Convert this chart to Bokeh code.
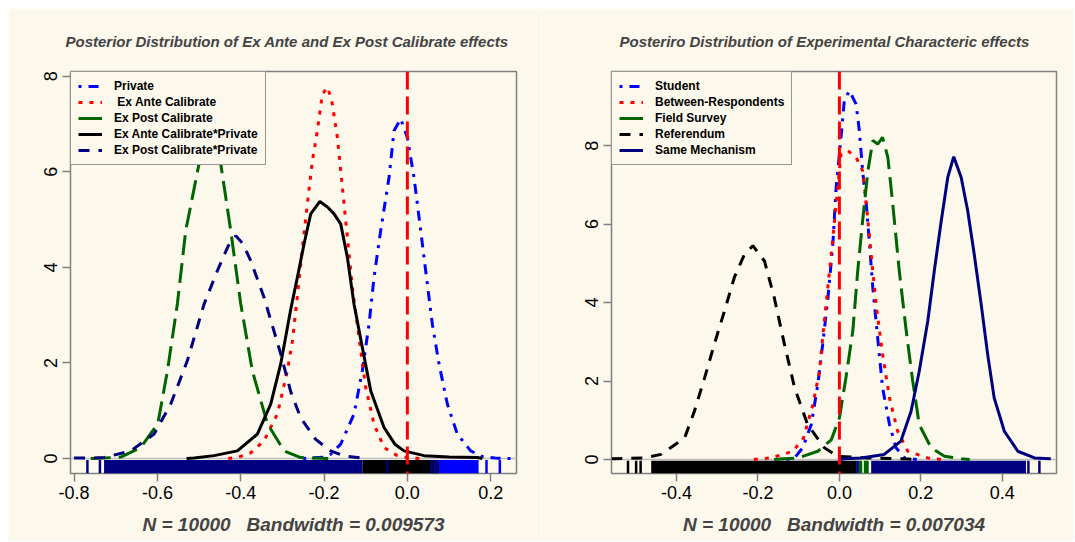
from bokeh.plotting import figure
from bokeh.layouts import row
from bokeh.models import (Range1d, FixedTicker, PrintfTickFormatter, Legend,
                          LegendItem, Span)
from bokeh.embed import file_html
from bokeh.resources import INLINE

# ---------------- data ----------------
# Left panel: posterior densities
L_TITLE = "Posterior Distribution of Ex Ante and Ex Post Calibrate effects"
L_XLABEL = "N = 10000\u00a0\u00a0 Bandwidth = 0.009573"
L_LABELS = ["Private", " Ex Ante Calibrate", "Ex Post Calibrate",
            "Ex Ante Calibrate*Private", "Ex Post Calibrate*Private"]
L_XTICKS = [-0.8, -0.6, -0.4, -0.2, 0.0, 0.2]
L_YTICKS = [0, 2, 4, 6, 8]

private_x = [-0.25, -0.20, -0.184, -0.16, -0.128, -0.108, -0.092, -0.080, -0.064, -0.044,
             -0.032, -0.016, 0.0, 0.016, 0.028, 0.044, 0.060, 0.076, 0.096, 0.120,
             0.152, 0.18, 0.21, 0.248]
private_y = [0.0, 0.03, 0.09, 0.30, 0.93, 1.84, 2.81, 3.79, 4.77, 5.88,
             6.86, 7.11, 6.72, 5.88, 5.05, 3.93, 2.81, 1.98, 1.14, 0.51,
             0.16, 0.04, 0.01, 0.0]
exante_x = [-0.43, -0.408, -0.376, -0.344, -0.312, -0.288, -0.276, -0.264, -0.252, -0.240,
            -0.228, -0.216, -0.204, -0.191, -0.180, -0.168, -0.156, -0.144, -0.132, -0.116,
            -0.100, -0.080, -0.056, -0.024, 0.0, 0.03]
exante_y = [0.0, 0.02, 0.12, 0.37, 0.93, 1.84, 2.45, 3.40, 4.40, 5.33,
            6.23, 6.86, 7.63, 7.77, 7.42, 6.72, 5.68, 4.63, 3.58, 2.53,
            1.49, 0.72, 0.23, 0.06, 0.02, 0.0]
expost_x = [-0.76, -0.729, -0.688, -0.640, -0.599, -0.576, -0.552, -0.532, -0.500, -0.486,
            -0.474, -0.462, -0.448, -0.424, -0.400, -0.372, -0.336, -0.296, -0.256, -0.19]
expost_y = [0.0, 0.01, 0.03, 0.23, 0.73, 1.83, 3.24, 4.77, 6.17, 6.58,
            6.72, 6.58, 6.17, 4.77, 3.24, 1.83, 0.73, 0.16, 0.02, 0.0]
exante_priv_x = [-0.53, -0.512, -0.464, -0.408, -0.360, -0.328, -0.304, -0.280, -0.264, -0.248,
                 -0.232, -0.210, -0.190, -0.176, -0.160, -0.144, -0.128, -0.108, -0.088, -0.056,
                 -0.030, -0.008, 0.04, 0.10, 0.168, 0.18]
exante_priv_y = [0.0, 0.01, 0.06, 0.16, 0.51, 1.14, 1.98, 3.12, 3.79, 4.49,
                 5.12, 5.38, 5.25, 5.12, 4.91, 4.21, 3.23, 2.32, 1.42, 0.65,
                 0.30, 0.16, 0.06, 0.03, 0.02, 0.0]
expost_priv_x = [-0.80, -0.76, -0.728, -0.664, -0.608, -0.568, -0.528, -0.488, -0.456, -0.430,
                 -0.412, -0.395, -0.376, -0.344, -0.304, -0.280, -0.256, -0.220, -0.184, -0.150,
                 -0.10]
expost_priv_y = [0.01, 0.01, 0.02, 0.16, 0.51, 1.14, 2.05, 3.23, 3.93, 4.45,
                 4.66, 4.50, 4.14, 3.37, 2.19, 1.40, 0.85, 0.40, 0.16, 0.05,
                 0.0]

L_RUG_BAND_COLOR = ["#000080", "black", "blue"]
L_RUG_BAND_LEFT = [-0.728, -0.108, 0.076]
L_RUG_BAND_RIGHT = [-0.108, 0.076, 0.171]
L_RUG_TICK_X = [-0.768, -0.738, -0.048, 0.058, 0.066, 0.072, 0.19, 0.222]
L_RUG_TICK_COLOR = ["#000080", "#000080", "#000080", "#000080", "#000080", "#000080", "blue", "blue"]

# Right panel
R_TITLE = "Posteriro Distribution of Experimental Characteric effects"
R_XLABEL = "N = 10000\u00a0\u00a0 Bandwidth = 0.007034"
R_LABELS = ["Student", "Between-Respondents", "Field Survey", "Referendum", "Same Mechanism"]
R_XTICKS = [-0.4, -0.2, 0.0, 0.2, 0.4]
R_YTICKS = [0, 2, 4, 6, 8]

student_x = [-0.13, -0.110, -0.090, -0.069, -0.053, -0.041, -0.028, -0.016, -0.008, 0.004,
             0.012, 0.0245, 0.041, 0.049, 0.057, 0.066, 0.074, 0.082, 0.094, 0.106,
             0.123, 0.139, 0.160, 0.19]
student_y = [0.0, 0.04, 0.30, 0.89, 1.91, 2.94, 4.13, 5.50, 6.93, 8.21,
             9.15, 9.40, 9.06, 8.38, 7.36, 6.51, 5.49, 4.38, 3.10, 1.83,
             0.89, 0.30, 0.04, 0.0]
between_x = [-0.21, -0.190, -0.168, -0.114, -0.088, -0.065, -0.049, -0.037, -0.020, -0.008,
             0.004, 0.0206, 0.041, 0.057, 0.066, 0.078, 0.090, 0.106, 0.123, 0.143,
             0.168, 0.217, 0.25]
between_y = [0.0, 0.02, 0.04, 0.21, 0.55, 1.40, 2.25, 3.53, 5.23, 6.51,
             7.79, 7.87, 7.70, 7.36, 6.51, 5.23, 3.96, 2.68, 1.57, 0.72,
             0.21, 0.04, 0.0]
field_x = [-0.16, -0.135, -0.102, -0.053, -0.020, 0.0, 0.016, 0.033, 0.045, 0.057,
           0.070, 0.082, 0.094, 0.106, 0.119, 0.131, 0.147, 0.164, 0.180, 0.196,
           0.225, 0.258, 0.299, 0.32]
field_y = [0.0, 0.02, 0.04, 0.21, 0.50, 1.06, 2.08, 3.28, 4.81, 6.08,
           7.36, 8.13, 8.04, 8.21, 7.70, 6.51, 4.81, 3.28, 2.00, 0.89,
           0.30, 0.08, 0.02, 0.0]
referendum_x = [-0.56, -0.479, -0.438, -0.380, -0.356, -0.331, -0.307, -0.282, -0.258, -0.233,
                -0.2125, -0.184, -0.160, -0.135, -0.110, -0.078, -0.037, -0.004, 0.07, 0.17,
                0.19]
referendum_y = [0.02, 0.04, 0.13, 0.55, 1.23, 2.08, 2.94, 3.79, 4.64, 5.23,
                5.45, 5.06, 4.13, 2.94, 1.83, 0.89, 0.30, 0.08, 0.04, 0.01,
                0.0]
same_x = [0.0, 0.012, 0.053, 0.110, 0.151, 0.176, 0.196, 0.217, 0.233, 0.250,
          0.266, 0.2807, 0.299, 0.315, 0.331, 0.348, 0.364, 0.380, 0.405, 0.438,
          0.479, 0.519]
same_y = [0.0, 0.02, 0.04, 0.13, 0.47, 1.23, 2.25, 3.53, 4.81, 6.08,
          7.19, 7.72, 7.19, 6.34, 5.23, 3.96, 2.68, 1.57, 0.72, 0.21,
          0.04, 0.02]

R_RUG_BAND_COLOR = ["black", "#000080", "#006400", "#006400", "#000080"]
R_RUG_BAND_LEFT = [-0.462, 0.041, 0.048, 0.060, 0.078]
R_RUG_BAND_RIGHT = [0.041, 0.048, 0.056, 0.072, 0.458]
R_RUG_TICK_X = [-0.519, -0.499, -0.488, 0.464, 0.491]
R_RUG_TICK_COLOR = ["black", "black", "black", "#000080", "#000080"]

# ---------------- styling ----------------
CREAM = "#FDF8EC"
FONT = "Liberation Sans"
GREY = "#808080"
BLUE, RED, GREEN, BLACK, NAVY = "#0000FF", "#FF0000", "#006400", "#000000", "#000080"
DOTDASH, DOTTED, LONGDASH, DASHED = "3 7 10 7", "4 7", "20 8", "11 9"
LW = 3
NAN = float("nan")


def make_panel(title, title_offset, xlabel, xr, yr, xticks, yticks, curves, legend_styles,
               labels, bands, ticks, rug_top, min_left, min_right):
    p = figure(frame_width=xr[2], frame_height=402,
               x_range=Range1d(xr[0], xr[1]), y_range=Range1d(yr[0], yr[1]),
               output_backend="svg", toolbar_location=None,
               background_fill_color=CREAM, border_fill_color=CREAM,
               min_border_left=min_left, min_border_right=min_right,
               min_border_top=63, min_border_bottom=68)
    p.grid.visible = False
    p.outline_line_color = GREY
    p.outline_line_width = 1.5

    p.title.text = title
    p.title.text_font = FONT
    p.title.text_font_style = "bold italic"
    p.title.text_font_size = "15px"
    p.title.align = "left"
    p.title.offset = title_offset
    p.title.standoff = 43

    for ax in (p.xaxis[0], p.yaxis[0]):
        ax.axis_line_color = None
        ax.major_tick_line_color = GREY
        ax.major_tick_line_width = 1.5
        ax.major_tick_out = 8
        ax.major_tick_in = 0
        ax.minor_tick_line_color = None
        ax.major_label_text_font = FONT
        ax.major_label_text_font_size = "18px"
        ax.major_label_text_color = "black"
    p.xaxis[0].ticker = FixedTicker(ticks=xticks)
    p.xaxis[0].formatter = PrintfTickFormatter(format="%.1f")
    p.xaxis[0].major_label_standoff = 4
    p.xaxis[0].axis_label = xlabel
    p.xaxis[0].axis_label_text_font = FONT
    p.xaxis[0].axis_label_text_font_style = "bold italic"
    p.xaxis[0].axis_label_text_font_size = "19px"
    p.xaxis[0].axis_label_standoff = 12
    p.yaxis[0].ticker = FixedTicker(ticks=yticks)
    p.yaxis[0].formatter = PrintfTickFormatter(format="%d")
    p.yaxis[0].major_label_orientation = "vertical"
    p.yaxis[0].major_label_standoff = 5

    p.add_layout(Span(location=0, dimension="width", line_color="#BEBEBE",
                      line_width=1.5, level="underlay"))

    # rug
    bcol, bl, br = bands
    p.quad(left=bl, right=br, bottom=[yr[0]] * len(bl), top=[rug_top] * len(bl),
           fill_color=bcol, line_color=None)
    tx, tcol = ticks
    p.segment(x0=tx, x1=tx, y0=[yr[0]] * len(tx), y1=[rug_top] * len(tx),
              line_color=tcol, line_width=2.5)

    for (x, y, col, dash) in curves:
        p.line(x, y, line_color=col, line_width=LW, line_dash=dash)

    p.add_layout(Span(location=0, dimension="height", line_color=RED,
                      line_width=3, line_dash="18 7"))

    items = []
    for lab, (col, dash) in zip(labels, legend_styles):
        r = p.line([NAN], [NAN], line_color=col, line_width=LW, line_dash=dash)
        items.append(LegendItem(label=lab, renderers=[r]))
    leg = Legend(items=items, location="top_left", margin=0, padding=7,
                 spacing=2, glyph_width=24, glyph_height=14, label_height=14,
                 label_standoff=12, label_text_font=FONT, label_text_font_style="bold",
                 label_text_font_size="12px", label_text_color="black",
                 border_line_color="#333333", border_line_width=1,
                 background_fill_color=CREAM, background_fill_alpha=1.0)
    p.add_layout(leg)
    return p


left = make_panel(
    L_TITLE, -5, L_XLABEL, (-0.8086, 0.262, 446), (-0.314, 8.10), L_XTICKS, L_YTICKS,
    [(private_x, private_y, BLUE, DOTDASH),
     (exante_x, exante_y, RED, DOTTED),
     (expost_x, expost_y, GREEN, LONGDASH),
     (exante_priv_x, exante_priv_y, BLACK, "solid"),
     (expost_priv_x, expost_priv_y, NAVY, DASHED)],
    [(BLUE, DOTDASH), (RED, DOTTED), (GREEN, "solid"), (BLACK, "solid"), (NAVY, DASHED)],
    L_LABELS,
    (L_RUG_BAND_COLOR, L_RUG_BAND_LEFT, L_RUG_BAND_RIGHT),
    (L_RUG_TICK_X, L_RUG_TICK_COLOR), -0.03, 62, 25)

right = make_panel(
    R_TITLE, 8, R_XLABEL, (-0.5595, 0.533, 445), (-0.357, 9.89), R_XTICKS, R_YTICKS,
    [(student_x, student_y, BLUE, DOTDASH),
     (between_x, between_y, RED, DOTTED),
     (field_x, field_y, GREEN, LONGDASH),
     (referendum_x, referendum_y, BLACK, DASHED),
     (same_x, same_y, NAVY, "solid")],
    [(BLUE, DOTDASH), (RED, DOTTED), (GREEN, "solid"), (BLACK, DASHED), (NAVY, "solid")],
    R_LABELS,
    (R_RUG_BAND_COLOR, R_RUG_BAND_LEFT, R_RUG_BAND_RIGHT),
    (R_RUG_TICK_X, R_RUG_TICK_COLOR), -0.03, 70, 18)

layout = row(left, right, spacing=0, margin=(8, 0, 0, 8))
open("out.html", "w").write(file_html(layout, INLINE))
